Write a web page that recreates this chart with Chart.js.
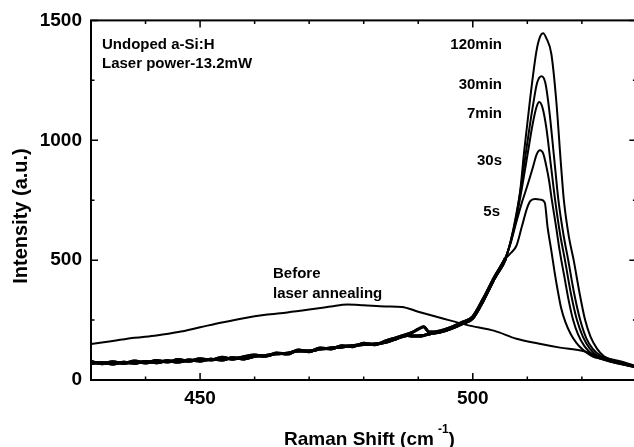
<!DOCTYPE html>
<html><head><meta charset="utf-8">
<script src="https://cdn.jsdelivr.net/npm/chart.js@4.4.0/dist/chart.umd.min.js"></script>
<style>
html,body{margin:0;padding:0;overflow:hidden;background:#fff;width:634px;height:447px}
#wrap{width:640px;height:447px}
</style></head>
<body><div id="wrap"><canvas id="c" width="640" height="447"></canvas></div>
<script>
// ---- tick values ----
const xTickValues = [450, 500];
const xMinorValues = [440, 460, 470, 480, 490, 510, 520];
const yTickValues = [0, 500, 1000, 1500];
const yMinorValues = [250, 750, 1250];

// ---- before laser annealing ----
const beforeX = [430, 434, 438, 442, 446, 450, 454, 458, 462, 466, 470, 474, 477, 480, 484, 487, 490, 494, 499, 504, 508, 512, 516, 520, 524, 527, 530];
const beforeY = [150, 163, 176, 186, 200, 220, 240, 258, 272, 282, 294, 307, 315, 312, 307, 305, 285, 260, 229, 205, 172, 152, 135, 122, 94, 78, 58];

// ---- shared low-wavenumber background of the annealed spectra ----
const baseX  = [430, 432, 434, 436, 438, 440, 442, 444, 446, 448, 450, 452, 454, 456, 458, 460, 462, 464, 466, 468, 470, 472, 474, 476, 478, 480, 482, 484, 486, 488, 489, 490, 491, 492, 494, 496, 498, 500, 502, 504, 506];
const baseYA = [70, 73, 67, 74, 70, 77, 72, 80, 75, 83, 79, 87, 83, 93, 88, 99, 102, 109, 112, 121, 121, 129, 133, 138, 143, 148, 150, 157, 172, 186, 184, 184, 186, 192, 200, 214, 234, 258, 335, 425, 505];
const baseYB = [77, 68, 76, 69, 79, 71, 81, 75, 85, 78, 89, 83, 95, 87, 97, 104, 99, 113, 108, 125, 118, 133, 129, 143, 139, 153, 147, 163, 177, 191, 200, 212, 222, 200, 205, 219, 240, 264, 342, 430, 510];

// ---- crystalline Si peak region for each annealing time ----
const peak5sX  = [507, 508, 509, 510, 510.6, 511.5, 512.5, 513.2, 513.7, 514.4, 515, 515.6, 516.2, 517, 518, 519, 520, 521, 522, 523.5, 525, 526.5, 528, 529, 530];
const peak5sY  = [530, 560, 640, 720, 748, 755, 752, 740, 640, 540, 450, 370, 300, 240, 190, 155, 130, 112, 98, 88, 80, 72, 64, 58, 54];
const peak30sX = [507, 508, 509, 510, 511, 511.7, 512.3, 512.9, 513.5, 514, 514.5, 515.2, 516, 516.8, 517.6, 518.4, 519.3, 520.5, 522, 523.5, 525, 526.5, 528, 529, 530];
const peak30sY = [575, 660, 740, 810, 885, 940, 958, 945, 890, 830, 750, 650, 530, 430, 330, 250, 190, 140, 105, 88, 78, 70, 62, 57, 52];
const peak7mX  = [507, 508, 509, 510, 511, 511.7, 512.2, 512.8, 513.5, 514.3, 515.1, 516, 516.9, 518, 519.1, 520.2, 521.5, 523, 524.5, 526, 527.5, 529, 530];
const peak7mY  = [580, 675, 800, 935, 1070, 1140, 1160, 1135, 1050, 900, 750, 610, 500, 360, 250, 180, 130, 98, 82, 72, 65, 57, 53];
const peak30mX = [507, 508, 509, 510, 511, 511.8, 512.6, 513.3, 514, 514.9, 515.7, 516.6, 517.5, 518.6, 519.7, 520.8, 522, 523.5, 525, 526.5, 528, 529, 530];
const peak30mY = [582, 685, 830, 990, 1140, 1240, 1267, 1240, 1130, 930, 750, 610, 500, 360, 250, 175, 130, 100, 84, 74, 64, 58, 54];
const peak120X = [507, 508, 508.7, 509.4, 510.5, 511.7, 512.4, 512.9, 513.5, 514.4, 515.3, 516.2, 516.7, 517.6, 518.5, 519.6, 520.6, 521.6, 522.8, 524, 525.5, 527, 528.5, 530];
const peak120Y = [585, 695, 790, 950, 1170, 1375, 1435, 1446, 1425, 1361, 1167, 889, 750, 600, 500, 360, 250, 180, 130, 100, 84, 74, 64, 56];

// ---- texts ----
const sampleLabels = ['Undoped a-Si:H', 'Laser power-13.2mW'];
const timeLabels = ['120min', '30min', '7min', '30s', '5s'];
const beforeLabels = ['Before', 'laser annealing'];
const xTitle = 'Raman Shift (cm';
const yTitle = 'Intensity (a.u.)';

function pts(xs, ys) { return xs.map((v, i) => ({x: v, y: ys[i]})); }
function curve(bx, by, px, py) { return pts(bx.concat(px), by.concat(py)); }

const series = [
  pts(beforeX, beforeY),
  curve(baseX, baseYA, peak5sX, peak5sY),
  curve(baseX, baseYB, peak30sX, peak30sY),
  curve(baseX, baseYA, peak7mX, peak7mY),
  curve(baseX, baseYB, peak30mX, peak30mY),
  curve(baseX, baseYA, peak120X, peak120Y)
];

const FONT = "'Liberation Sans', Arial, Helvetica, sans-serif";
Chart.defaults.font.family = FONT;
Chart.defaults.color = '#000';

const deco = {
  id: 'deco',
  afterDraw(chart) {
    const {ctx, chartArea: a, scales: {x, y}} = chart;
    ctx.save();
    ctx.strokeStyle = '#000';
    ctx.lineWidth = 2;
    ctx.strokeRect(a.left, a.top, a.right - a.left, a.bottom - a.top);
    ctx.lineWidth = 1.5;
    ctx.beginPath();
    const tx = (v, len) => { const p = x.getPixelForValue(v);
      ctx.moveTo(p, a.bottom); ctx.lineTo(p, a.bottom - len);
      ctx.moveTo(p, a.top); ctx.lineTo(p, a.top + len); };
    const ty = (v, len) => { const p = y.getPixelForValue(v);
      ctx.moveTo(a.left, p); ctx.lineTo(a.left + len, p);
      ctx.moveTo(a.right, p); ctx.lineTo(a.right - len, p); };
    xTickValues.forEach(v => tx(v, 7));
    xMinorValues.forEach(v => tx(v, 3.5));
    yTickValues.forEach(v => ty(v, 7));
    yMinorValues.forEach(v => ty(v, 3.5));
    ctx.stroke();

    ctx.fillStyle = '#000';
    ctx.textBaseline = 'alphabetic';
    ctx.font = 'bold 15px ' + FONT;
    ctx.textAlign = 'left';
    ctx.fillText(sampleLabels[0], 102, 49);
    ctx.fillText(sampleLabels[1], 102, 68);
    ctx.fillText(beforeLabels[0], 273, 278);
    ctx.fillText(beforeLabels[1], 273, 298);
    ctx.textAlign = 'right';
    const ty2 = [49, 89, 118, 165, 216];
    const tr = [502, 502, 502, 502, 500];
    timeLabels.forEach((t, i) => ctx.fillText(t, tr[i], ty2[i]));

    // x title
    ctx.textAlign = 'left';
    ctx.font = 'bold 19px ' + FONT;
    let xs = 284;
    ctx.fillText(xTitle, xs, 445);
    xs += ctx.measureText(xTitle).width + 4;
    ctx.font = 'bold 12px ' + FONT;
    ctx.fillText('-1', xs, 433);
    xs += ctx.measureText('-1').width;
    ctx.font = 'bold 19px ' + FONT;
    ctx.fillText(')', xs, 445);

    // y title
    ctx.translate(27, 216);
    ctx.rotate(-Math.PI / 2);
    ctx.textAlign = 'center';
    ctx.font = 'bold 20px ' + FONT;
    ctx.fillText(yTitle, 0, 0);
    ctx.restore();
  }
};

new Chart(document.getElementById('c'), {
  type: 'line',
  data: {
    datasets: series.map((d, i) => ({
      data: d, borderColor: '#000', borderWidth: 2, pointRadius: 0,
      fill: false, cubicInterpolationMode: 'monotone',
      segment: {borderWidth: c => (i > 0 && c.p1.parsed.x <= 506) ? 3 : 2}
    }))
  },
  options: {
    responsive: false, animation: false,
    layout: {padding: {top: 20, right: 3.6, left: 0, bottom: 0}},
    plugins: {legend: {display: false}, tooltip: {enabled: false}},
    scales: {
      x: {
        type: 'linear', min: 430, max: 530,
        grid: {display: false, drawTicks: false}, border: {display: false},
        afterBuildTicks: s => { s.ticks = xTickValues.map(v => ({value: v})); },
        afterFit: s => { s.height = 67; },
        ticks: {padding: 7, font: {size: 19, weight: 'bold'}, color: '#000', callback: v => String(v)}
      },
      y: {
        min: 0, max: 1500,
        grid: {display: false, drawTicks: false}, border: {display: false},
        afterBuildTicks: s => { s.ticks = yTickValues.map(v => ({value: v})); },
        afterFit: s => { s.width = 91; },
        ticks: {padding: 9, font: {size: 19, weight: 'bold'}, color: '#000', callback: v => String(v)}
      }
    }
  },
  plugins: [deco]
});
</script>
</body></html>
